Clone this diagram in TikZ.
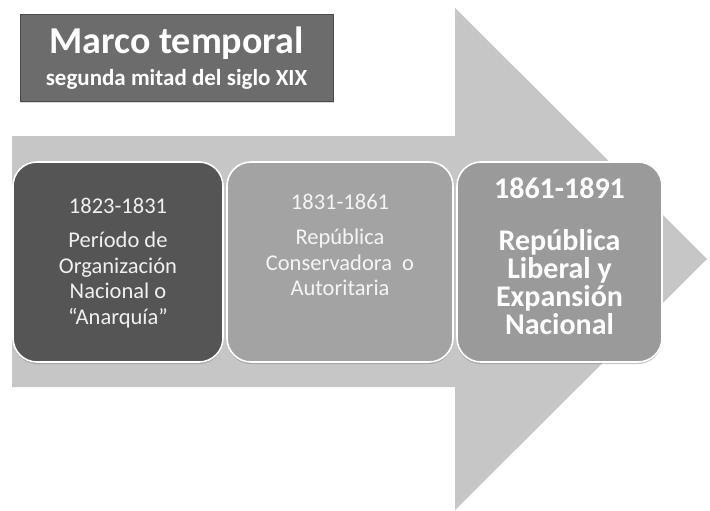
\documentclass[tikz,border=0pt]{standalone}
\usepackage{fontspec}
\setmainfont{Carlito}
\usetikzlibrary{positioning,shadows}

\definecolor{arrowgray}{HTML}{C6C6C6}
\definecolor{titlegray}{HTML}{6C6C6C}
\definecolor{titleline}{HTML}{4A4A4A}
\definecolor{darkbox}{HTML}{555555}
\definecolor{midbox}{HTML}{A3A3A3}
\definecolor{lastbox}{HTML}{9A9A9A}

\begin{document}
\begin{tikzpicture}[x=1pt,y=-1pt]

	\tikzset{
	period/.style={draw=white, line width=1.6pt, rounded corners=24pt, minimum height=200pt,
		inner sep=0pt, drop shadow={shadow xshift=0pt, shadow yshift=-2pt, opacity=.45}},
	periodtext/.style={align=center, text=white!94!black, font=\fontsize{22.5}{25.5}\selectfont},
	boldtext/.style={align=center, text=white, font=\bfseries\fontsize{30}{28}\selectfont},
}

\useasboundingbox (0,0) rectangle (710,511);
\fill[white] (0,0) rectangle (710,511);

% big arrow
\fill[arrowgray] (12,136) -- (455,136) -- (455,8) -- (707,259) -- (455,510) -- (455,387) -- (12,387) -- cycle;

% title
\node[draw=titleline, fill=titlegray, line width=1pt, minimum width=313pt, minimum height=87pt,
	drop shadow={shadow xshift=1pt, shadow yshift=-1pt, opacity=.3},
	align=center, text=white, font=\bfseries] (title) at (176.5,58.5)
	{{\fontsize{38}{38}\selectfont Marco temporal}\\[9pt]{\fontsize{23}{24}\selectfont segunda mitad del siglo XIX}};

% periods
\node[period, fill=darkbox, minimum width=210pt] (p1) at (118,262) {};
\node[period, fill=midbox, minimum width=226pt] (p2) at (340,262) {};
\node[period, fill=lastbox, minimum width=205pt] (p3) at (559.5,262) {};

\node[periodtext, yshift=-1pt] (t1) at (p1.center) {1823-1831\\[9pt]Período de\\Organización\\Nacional o\\“Anarquía”};
\node[periodtext, text=white!96!black, yshift=17pt] (t2) at (p2.center) {1831-1861\\[10pt]República\\Conservadora~ o\\Autoritaria};
\node[boldtext, yshift=6pt] (t3) at (p3.center) {1861-1891\\[24pt]República\\Liberal y\\Expansión\\Nacional};

\end{tikzpicture}
\end{document}
